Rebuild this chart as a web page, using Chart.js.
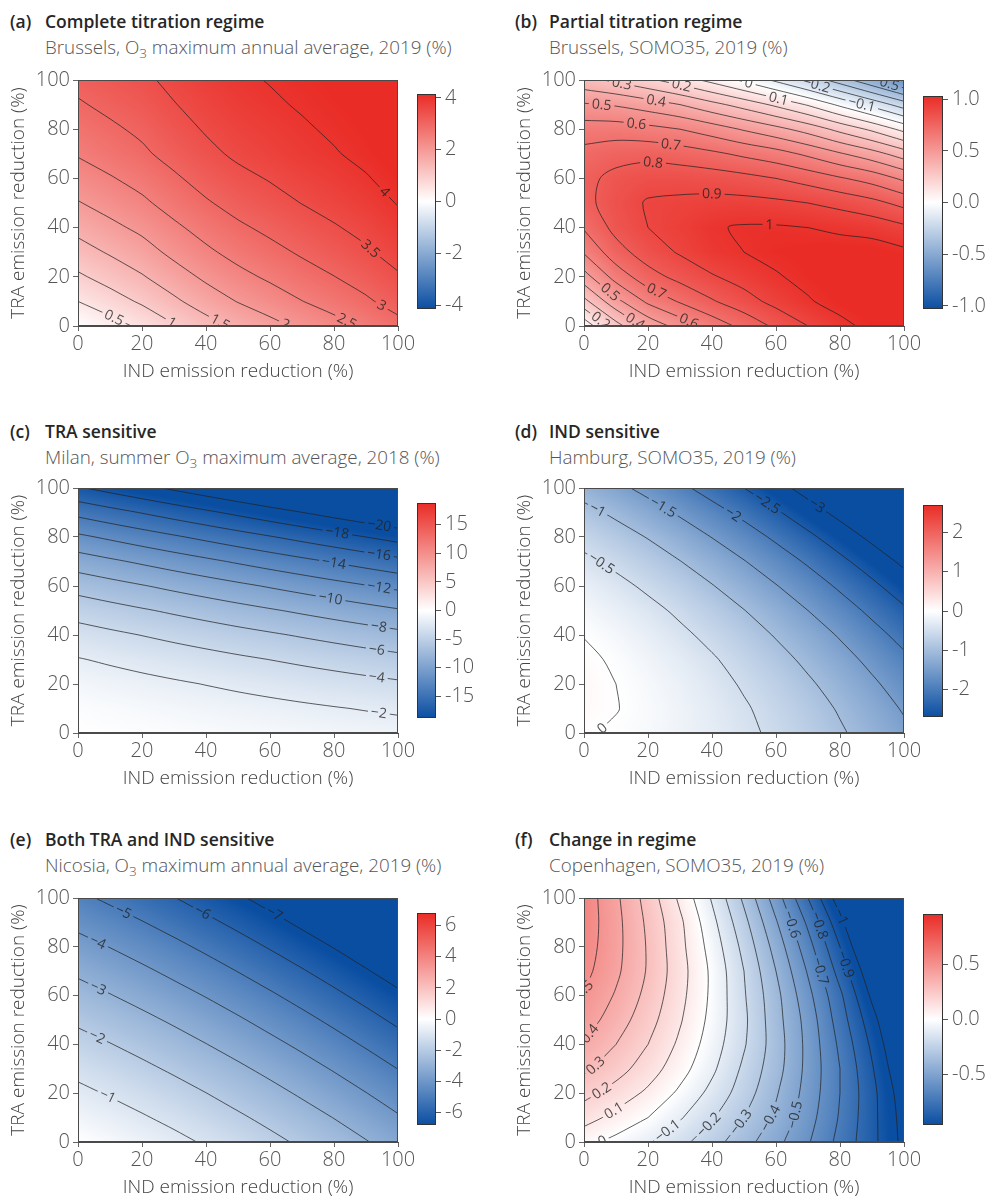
<!DOCTYPE html>
<html>
<head>
<meta charset="utf-8">
<script src="https://cdn.jsdelivr.net/npm/chart.js@4.4.1/dist/chart.umd.min.js"></script>
<style>
  body { margin: 0; background: #fff; width: 992px; height: 1198px; position: relative; overflow: hidden;
         font-family: 'Open Sans', 'DejaVu Sans', sans-serif; }
  canvas { position: absolute; }
  .lt { position: absolute; font-size: 17.5px; font-weight: 600; color: #262626; transform: translateY(-50%); white-space: nowrap; }
  .st { position: absolute; font-size: 18.8px; font-weight: 300; color: #555; transform: translateY(-50%); white-space: nowrap; }
  .sub3 { font-size: 0.72em; position: relative; top: 0.3em; }
</style>
</head>
<body>
<script>
// grid axes (emission reduction, %)
const xIND = [0, 10, 20, 30, 40, 50, 60, 70, 80, 90, 100];
const yTRA = [0, 10, 20, 30, 40, 50, 60, 70, 80, 90, 100];

// values, one row per TRA step (0 -> 100), columns IND 0 -> 100
const gridA = [
  [0.00, 0.30, 0.60, 0.96, 1.30, 1.60, 1.85, 2.10, 2.33, 2.57, 2.85],
  [0.50, 0.78, 1.07, 1.41, 1.74, 2.02, 2.25, 2.49, 2.70, 2.93, 3.19],
  [0.92, 1.19, 1.46, 1.78, 2.09, 2.36, 2.58, 2.80, 2.99, 3.20, 3.45],
  [1.30, 1.55, 1.80, 2.12, 2.41, 2.66, 2.86, 3.06, 3.25, 3.44, 3.67],
  [1.64, 1.88, 2.11, 2.41, 2.68, 2.92, 3.11, 3.29, 3.46, 3.63, 3.85],
  [1.97, 2.19, 2.41, 2.69, 2.95, 3.17, 3.34, 3.51, 3.66, 3.82, 4.02],
  [2.26, 2.46, 2.67, 2.93, 3.18, 3.38, 3.53, 3.69, 3.82, 3.97, 4.15],
  [2.54, 2.73, 2.92, 3.16, 3.39, 3.58, 3.72, 3.86, 3.97, 4.10, 4.27],
  [2.75, 2.92, 3.09, 3.33, 3.54, 3.71, 3.83, 3.95, 4.06, 4.17, 4.32],
  [2.95, 3.11, 3.26, 3.48, 3.67, 3.83, 3.94, 4.04, 4.13, 4.22, 4.36],
  [3.13, 3.27, 3.41, 3.61, 3.79, 3.93, 4.02, 4.11, 4.18, 4.26, 4.38]
];
const gridB = [
  [0.03, 0.26, 0.43, 0.54, 0.64, 0.73, 0.82, 0.90, 0.97, 1.03, 1.06],
  [0.27, 0.47, 0.62, 0.71, 0.79, 0.86, 0.93, 0.99, 1.04, 1.08, 1.09],
  [0.46, 0.64, 0.76, 0.83, 0.89, 0.94, 0.99, 1.03, 1.06, 1.08, 1.08],
  [0.61, 0.76, 0.85, 0.91, 0.97, 1.00, 1.03, 1.04, 1.05, 1.05, 1.02],
  [0.71, 0.83, 0.90, 0.94, 0.99, 1.01, 1.01, 1.00, 0.98, 0.96, 0.92],
  [0.77, 0.85, 0.91, 0.92, 0.93, 0.93, 0.92, 0.90, 0.87, 0.83, 0.77],
  [0.77, 0.83, 0.86, 0.86, 0.85, 0.83, 0.80, 0.76, 0.71, 0.66, 0.58],
  [0.73, 0.76, 0.77, 0.75, 0.72, 0.68, 0.64, 0.58, 0.51, 0.44, 0.35],
  [0.65, 0.65, 0.63, 0.60, 0.55, 0.49, 0.43, 0.36, 0.27, 0.18, 0.07],
  [0.51, 0.49, 0.45, 0.40, 0.33, 0.26, 0.18, 0.09, -0.02, -0.13, -0.25],
  [0.33, 0.28, 0.22, 0.15, 0.07, -0.02, -0.12, -0.23, -0.35, -0.48, -0.62]
];
const gridC = [
  [0.00, -0.12, -0.24, -0.36, -0.48, -0.61, -0.73, -0.85, -0.97, -1.09, -1.21],
  [-0.30, -0.50, -0.70, -0.90, -1.10, -1.30, -1.50, -1.70, -1.90, -2.10, -2.30],
  [-0.94, -1.22, -1.49, -1.77, -2.05, -2.33, -2.60, -2.88, -3.16, -3.43, -3.71],
  [-1.90, -2.25, -2.61, -2.96, -3.31, -3.67, -4.02, -4.37, -4.72, -5.08, -5.43],
  [-3.18, -3.61, -4.04, -4.47, -4.90, -5.33, -5.75, -6.18, -6.61, -7.04, -7.47],
  [-4.80, -5.30, -5.80, -6.30, -6.80, -7.31, -7.81, -8.31, -8.81, -9.31, -9.81],
  [-6.74, -7.31, -7.88, -8.46, -9.03, -9.60, -10.17, -10.74, -11.32, -11.89, -12.46],
  [-9.02, -9.66, -10.30, -10.94, -11.58, -12.23, -12.87, -13.51, -14.15, -14.79, -15.43],
  [-11.62, -12.33, -13.04, -13.75, -14.46, -15.17, -15.87, -16.58, -17.29, -18.00, -18.71],
  [-14.54, -15.32, -16.09, -16.87, -17.64, -18.42, -19.20, -19.97, -20.75, -21.52, -22.30],
  [-17.80, -18.64, -19.48, -20.32, -21.16, -22.00, -22.84, -23.68, -24.52, -25.36, -26.20]
];
const gridD = [
  [0.02, -0.03, -0.09, -0.18, -0.29, -0.42, -0.57, -0.75, -0.95, -1.17, -1.41],
  [0.07, 0.01, -0.08, -0.18, -0.31, -0.46, -0.63, -0.82, -1.04, -1.28, -1.54],
  [0.08, 0.00, -0.10, -0.22, -0.37, -0.54, -0.72, -0.94, -1.17, -1.43, -1.70],
  [0.06, -0.04, -0.16, -0.30, -0.46, -0.65, -0.86, -1.09, -1.34, -1.61, -1.91],
  [-0.01, -0.12, -0.26, -0.42, -0.60, -0.80, -1.03, -1.27, -1.54, -1.84, -2.15],
  [-0.11, -0.24, -0.39, -0.57, -0.77, -0.99, -1.23, -1.50, -1.79, -2.10, -2.43],
  [-0.24, -0.39, -0.57, -0.76, -0.98, -1.22, -1.48, -1.76, -2.07, -2.40, -2.75],
  [-0.42, -0.59, -0.78, -0.99, -1.22, -1.48, -1.76, -2.06, -2.39, -2.73, -3.10],
  [-0.63, -0.82, -1.02, -1.25, -1.51, -1.78, -2.08, -2.40, -2.74, -3.11, -3.49],
  [-0.88, -1.08, -1.31, -1.56, -1.83, -2.12, -2.44, -2.78, -3.14, -3.52, -3.92],
  [-1.17, -1.39, -1.63, -1.90, -2.19, -2.50, -2.83, -3.19, -3.57, -3.97, -4.39]
];
const gridE = [
  [0.00, -0.24, -0.50, -0.78, -1.09, -1.42, -1.77, -2.14, -2.53, -2.95, -3.39],
  [-0.39, -0.64, -0.92, -1.21, -1.53, -1.87, -2.23, -2.62, -3.02, -3.45, -3.91],
  [-0.80, -1.07, -1.35, -1.66, -1.99, -2.35, -2.72, -3.12, -3.54, -3.98, -4.45],
  [-1.23, -1.51, -1.81, -2.13, -2.47, -2.84, -3.23, -3.64, -4.07, -4.53, -5.01],
  [-1.68, -1.97, -2.28, -2.62, -2.98, -3.36, -3.76, -4.18, -4.63, -5.10, -5.59],
  [-2.15, -2.45, -2.78, -3.13, -3.50, -3.89, -4.31, -4.74, -5.20, -5.68, -6.19],
  [-2.64, -2.96, -3.30, -3.66, -4.04, -4.45, -4.87, -5.32, -5.79, -6.29, -6.81],
  [-3.15, -3.48, -3.83, -4.21, -4.60, -5.02, -5.46, -5.92, -6.41, -6.92, -7.45],
  [-3.68, -4.02, -4.39, -4.77, -5.18, -5.62, -6.07, -6.55, -7.04, -7.56, -8.11],
  [-4.23, -4.59, -4.96, -5.36, -5.79, -6.23, -6.70, -7.19, -7.70, -8.23, -8.79],
  [-4.80, -5.17, -5.56, -5.97, -6.41, -6.87, -7.35, -7.85, -8.37, -8.92, -9.49]
];
const gridF = [
  [0.03, -0.03, -0.09, -0.17, -0.26, -0.36, -0.47, -0.59, -0.73, -0.87, -1.03],
  [0.14, 0.07, 0.00, -0.09, -0.19, -0.30, -0.42, -0.56, -0.71, -0.87, -1.04],
  [0.23, 0.16, 0.08, -0.02, -0.13, -0.25, -0.39, -0.54, -0.70, -0.87, -1.06],
  [0.32, 0.24, 0.15, 0.04, -0.08, -0.22, -0.36, -0.53, -0.70, -0.89, -1.10],
  [0.39, 0.30, 0.20, 0.08, -0.05, -0.19, -0.35, -0.53, -0.72, -0.92, -1.14],
  [0.45, 0.35, 0.24, 0.11, -0.03, -0.18, -0.36, -0.54, -0.75, -0.96, -1.19],
  [0.49, 0.39, 0.27, 0.13, -0.02, -0.19, -0.37, -0.57, -0.78, -1.02, -1.26],
  [0.53, 0.42, 0.29, 0.14, -0.02, -0.20, -0.40, -0.61, -0.84, -1.08, -1.34],
  [0.55, 0.43, 0.29, 0.13, -0.04, -0.23, -0.44, -0.66, -0.90, -1.16, -1.43],
  [0.56, 0.43, 0.28, 0.12, -0.07, -0.27, -0.49, -0.72, -0.97, -1.24, -1.53],
  [0.56, 0.42, 0.26, 0.08, -0.11, -0.32, -0.55, -0.80, -1.06, -1.34, -1.65]
];

// contour levels
const levelsA = [0.5, 1, 1.5, 2, 2.5, 3, 3.5, 4];
const levelsB = [-0.5, -0.4, -0.3, -0.2, -0.1, 0, 0.1, 0.2, 0.3, 0.4, 0.5, 0.6, 0.7, 0.8, 0.9, 1];
const levelsC = [-20, -18, -16, -14, -12, -10, -8, -6, -4, -2];
const levelsD = [-3, -2.5, -2, -1.5, -1, -0.5, 0];
const levelsE = [-7, -6, -5, -4, -3, -2, -1];
const levelsF = [-1, -0.9, -0.8, -0.7, -0.6, -0.5, -0.4, -0.3, -0.2, -0.1, 0, 0.1, 0.2, 0.3, 0.4, 0.5];

// inline contour labels: [level, IND, TRA] (approximate spot, snapped onto the line)
const labelsA = [[0.5, 10.6, 2.3], [1, 29.4, 1.6], [1.5, 45, 2.3], [2, 65.3, 1.6], [2.5, 84, 2],
                 [3, 96, 9.7], [3.5, 91.4, 31.4], [4, 94.5, 53.6]];
const labelsB = [[0.3, 11.7, 98.2], [0.2, 30.4, 97.6], [0, 51.3, 98.2], [-0.2, 72, 96.2], [-0.5, 93, 95.5],
                 [0.4, 22.6, 91.8], [0.1, 60.6, 91.8], [-0.1, 86.1, 88.1], [0.5, 5.4, 89], [0.6, 16.4, 82.3],
                 [0.7, 27.3, 74.6], [0.8, 21.6, 66.5], [0.9, 40.3, 56.4], [1, 58, 42.8],
                 [0.5, 9, 14.5], [0.7, 23.6, 15.8], [0.2, 6, 3], [0.4, 17.4, 3.6], [0.6, 33, 2.3]];
const labelsC = [[-2, 94, 8.1], [-4, 93.4, 23], [-6, 93.4, 34.1], [-8, 94, 43.4], [-10, 78.9, 54.9],
                 [-12, 94, 58.9], [-14, 79.9, 69.1], [-16, 94, 72.5], [-18, 80.9, 81.3], [-20, 94, 84]];
const labelsD = [[0, 4, 3.4], [-0.5, 5.9, 69.8], [-1, 4.9, 92.1], [-1.5, 24.7, 92.1], [-2, 45.5, 88],
                 [-2.5, 55.9, 92.1], [-3, 71.6, 91.4]];
const labelsE = [[-1, 9.1, 18.6], [-2, 5.9, 43], [-3, 6.5, 63.4], [-4, 6.5, 82.4], [-5, 14.8, 95.3],
                 [-6, 39.8, 95.3], [-7, 62.2, 94.6]];
const labelsF = [[0.5, 2.5, 61], [0.4, 4, 43], [0.3, 5, 30], [0.2, 5.5, 21], [0.1, 10, 12], [0, 5, 1.6],
                 [-0.1, 25.7, 5], [-0.2, 38.2, 7.7], [-0.3, 48.6, 8.4], [-0.4, 58, 9.8], [-0.5, 66.4, 11.1],
                 [-0.6, 64.5, 89], [-0.7, 75.9, 70.5], [-0.8, 72.7, 88.5], [-0.9, 83.6, 73.3], [-1, 81, 92.5]];

// colour bar limits and ticks
const cbRange = [4.15, 1.03, 18.8, 2.7, 6.8, 0.96];
const cbTicksA = [-4, -2, 0, 2, 4];
const cbTicksB = [-1, -0.5, 0, 0.5, 1];
const cbTicksC = [-15, -10, -5, 0, 5, 10, 15];
const cbTicksD = [-2, -1, 0, 1, 2];
const cbTicksE = [-6, -4, -2, 0, 2, 4, 6];
const cbTicksF = [-0.5, 0, 0.5];

const letters = ['(a)', '(b)', '(c)', '(d)', '(e)', '(f)'];
const titles = ['Complete titration regime', 'Partial titration regime', 'TRA sensitive', 'IND sensitive',
                'Both TRA and IND sensitive', 'Change in regime'];
const subtitles = ['Brussels, O<span class="sub3">3</span> maximum annual average, 2019 (%)',
                   'Brussels, SOMO35, 2019 (%)',
                   'Milan, summer O<span class="sub3">3</span> maximum average, 2018 (%)',
                   'Hamburg, SOMO35, 2019 (%)',
                   'Nicosia, O<span class="sub3">3</span> maximum annual average, 2019 (%)',
                   'Copenhagen, SOMO35, 2019 (%)'];

const panels = [
  { grid: gridA, levels: levelsA, labels: labelsA, ticks: cbTicksA, dec: 0 },
  { grid: gridB, levels: levelsB, labels: labelsB, ticks: cbTicksB, dec: 1 },
  { grid: gridC, levels: levelsC, labels: labelsC, ticks: cbTicksC, dec: 0 },
  { grid: gridD, levels: levelsD, labels: labelsD, ticks: cbTicksD, dec: 0 },
  { grid: gridE, levels: levelsE, labels: labelsE, ticks: cbTicksE, dec: 0 },
  { grid: gridF, levels: levelsF, labels: labelsF, ticks: cbTicksF, dec: 1 }
];

// layout (pixels)
const PLOT_LEFT = [78, 584];
const ROW_TOP = [79, 487, 897];
const ROW_BOTTOM = [326, 733, 1142];
const CB_LEFT = [417, 923];
const CB_W = [19, 20];
const CB_Y = [[90, 313], [92, 313], [499, 722], [501, 721], [909, 1129], [910, 1129]];
const TITLE_Y = [21, 431, 839];
const SUB_Y = [47, 457, 865];
const LETTER_X = [10, 515];
const TEXT_X = [45, 549];

const BLUE = [10, 78, 162], WHITE = [255, 255, 255], RED = [234, 44, 38];
const LINE = 'rgba(35,35,35,0.72)';
const LABEL = 'rgba(35,35,35,0.8)';
const FONT = "'Open Sans', 'DejaVu Sans', sans-serif";
const TICK_FONT = { size: 20, weight: '300' };
const TITLE_FONT = { size: 19, weight: '300' };

Chart.defaults.font.family = FONT;
Chart.defaults.color = '#555';

function cmap(v, R) {
  let t = (v + R) / (2 * R);
  t = Math.max(0, Math.min(1, t));
  let a, b, s;
  if (t < 0.5) { a = BLUE; b = WHITE; s = t / 0.5; } else { a = WHITE; b = RED; s = (t - 0.5) / 0.5; }
  return [a[0] + (b[0] - a[0]) * s, a[1] + (b[1] - a[1]) * s, a[2] + (b[2] - a[2]) * s];
}
const rgb = c => 'rgb(' + c.join(',') + ')';

function sample(grid, x, y) {
  const n = xIND.length - 1, m = yTRA.length - 1;
  let fx = (x - xIND[0]) / (xIND[n] - xIND[0]) * n;
  let fy = (y - yTRA[0]) / (yTRA[m] - yTRA[0]) * m;
  fx = Math.max(0, Math.min(n, fx)); fy = Math.max(0, Math.min(m, fy));
  const i = Math.min(n - 1, Math.floor(fx)), j = Math.min(m - 1, Math.floor(fy));
  const tx = fx - i, ty = fy - j;
  return grid[j][i] * (1 - tx) * (1 - ty) + grid[j][i + 1] * tx * (1 - ty)
       + grid[j + 1][i] * (1 - tx) * ty + grid[j + 1][i + 1] * tx * ty;
}

// marching squares, chained into polylines
function contourLines(grid, level) {
  const nodes = new Map();
  const link = (a, b) => { nodes.get(a).links.push(b); nodes.get(b).links.push(a); };
  function hEdge(i, j) {
    const key = 'h' + i + '_' + j;
    if (!nodes.has(key)) {
      const a = grid[j][i], b = grid[j][i + 1], t = (level - a) / (b - a);
      nodes.set(key, { x: xIND[i] + (xIND[i + 1] - xIND[i]) * t, y: yTRA[j], links: [] });
    }
    return key;
  }
  function vEdge(i, j) {
    const key = 'v' + i + '_' + j;
    if (!nodes.has(key)) {
      const a = grid[j][i], b = grid[j + 1][i], t = (level - a) / (b - a);
      nodes.set(key, { x: xIND[i], y: yTRA[j] + (yTRA[j + 1] - yTRA[j]) * t, links: [] });
    }
    return key;
  }
  for (let j = 0; j < yTRA.length - 1; j++) {
    for (let i = 0; i < xIND.length - 1; i++) {
      const v00 = grid[j][i], v10 = grid[j][i + 1], v01 = grid[j + 1][i], v11 = grid[j + 1][i + 1];
      const c = (v00 >= level ? 1 : 0) | (v10 >= level ? 2 : 0) | (v11 >= level ? 4 : 0) | (v01 >= level ? 8 : 0);
      if (c === 0 || c === 15) continue;
      const B = () => hEdge(i, j), T = () => hEdge(i, j + 1), L = () => vEdge(i, j), R = () => vEdge(i + 1, j);
      let segs;
      switch (c) {
        case 1: case 14: segs = [[L(), B()]]; break;
        case 2: case 13: segs = [[B(), R()]]; break;
        case 4: case 11: segs = [[R(), T()]]; break;
        case 8: case 7: segs = [[T(), L()]]; break;
        case 3: case 12: segs = [[L(), R()]]; break;
        case 6: case 9: segs = [[B(), T()]]; break;
        default: {
          const ctr = (v00 + v10 + v01 + v11) / 4;
          if ((c === 5) === (ctr >= level)) segs = [[L(), T()], [B(), R()]];
          else segs = [[L(), B()], [R(), T()]];
        }
      }
      segs.forEach(s => link(s[0], s[1]));
    }
  }
  const used = new Set(), chains = [];
  function walk(start) {
    const pts = [start]; used.add(start);
    let cur = start;
    while (true) {
      const nb = nodes.get(cur).links.find(k => !used.has(k));
      if (!nb) break;
      pts.push(nb); used.add(nb); cur = nb;
    }
    return pts;
  }
  for (const [k, nd] of nodes) if (nd.links.length === 1 && !used.has(k)) chains.push(walk(k));
  for (const [k] of nodes) if (!used.has(k)) { const ch = walk(k); ch.push(ch[0]); chains.push(ch); }
  return chains.map(ch => ch.map(k => ({ x: nodes.get(k).x, y: nodes.get(k).y })));
}

function contourDatasets(p) {
  const out = [];
  p.levels.forEach(lv => {
    contourLines(p.grid, lv).forEach(pts => {
      out.push({ data: pts, showLine: true, borderColor: LINE, borderWidth: 1, pointRadius: 0,
                 tension: 0.3, fill: false });
    });
  });
  return out;
}

function placeLabels(chart, p) {
  const { ctx, scales: { x, y } } = chart;
  ctx.save();
  ctx.font = '14px ' + FONT;
  const out = p.labels.map(([lv, lx, ly]) => {
    let vx = lx, vy = ly;
    for (let it = 0; it < 10; it++) {
      const f = sample(p.grid, vx, vy) - lv;
      const gx = sample(p.grid, vx + 0.5, vy) - sample(p.grid, vx - 0.5, vy);
      const gy = sample(p.grid, vx, vy + 0.5) - sample(p.grid, vx, vy - 0.5);
      const g2 = gx * gx + gy * gy;
      if (g2 < 1e-12) break;
      vx = Math.max(0, Math.min(100, vx - f * gx / g2));
      vy = Math.max(0, Math.min(100, vy - f * gy / g2));
    }
    const px = x.getPixelForValue(vx), py = y.getPixelForValue(vy);
    const gpx = sample(p.grid, x.getValueForPixel(px + 1), vy) - sample(p.grid, x.getValueForPixel(px - 1), vy);
    const gpy = sample(p.grid, vx, y.getValueForPixel(py + 1)) - sample(p.grid, vx, y.getValueForPixel(py - 1));
    let ang = Math.atan2(gpx, -gpy);
    if (ang > Math.PI / 2) ang -= Math.PI;
    if (ang < -Math.PI / 2) ang += Math.PI;
    const text = String(lv).replace('-', '\u2212');
    return { px, py, ang, text, w: ctx.measureText(text).width + 6 };
  });
  ctx.restore();
  return out;
}

function heatPlugin(p, R) {
  return {
    id: 'heat',
    beforeDatasetsDraw(chart) {
      const { ctx, chartArea: a, scales: { x, y } } = chart;
      const w = Math.round(a.right - a.left), h = Math.round(a.bottom - a.top);
      const off = document.createElement('canvas');
      off.width = w; off.height = h;
      const octx = off.getContext('2d');
      const img = octx.createImageData(w, h);
      for (let py = 0; py < h; py++) {
        const vy = y.getValueForPixel(a.top + py + 0.5);
        for (let px = 0; px < w; px++) {
          const vx = x.getValueForPixel(a.left + px + 0.5);
          const c = cmap(sample(p.grid, vx, vy), R);
          const o = (py * w + px) * 4;
          img.data[o] = c[0]; img.data[o + 1] = c[1]; img.data[o + 2] = c[2]; img.data[o + 3] = 255;
        }
      }
      octx.putImageData(img, 0, 0);
      ctx.drawImage(off, a.left, a.top);

      // cut gaps in the contour lines where the labels go
      chart.$labels = placeLabels(chart, p);
      ctx.save();
      ctx.beginPath();
      ctx.rect(0, 0, chart.width, chart.height);
      chart.$labels.forEach(l => {
        const c = Math.cos(l.ang), s = Math.sin(l.ang), hw = l.w / 2, hh = 5;
        const pts = [[-hw, -hh], [hw, -hh], [hw, hh], [-hw, hh]].map(([u, v]) => [l.px + u * c - v * s, l.py + u * s + v * c]);
        ctx.moveTo(pts[0][0], pts[0][1]);
        for (let k = 1; k < 4; k++) ctx.lineTo(pts[k][0], pts[k][1]);
        ctx.closePath();
      });
      ctx.clip('evenodd');
    },
    afterDatasetsDraw(chart) {
      const { ctx, chartArea: a } = chart;
      ctx.restore();
      ctx.save();
      ctx.beginPath();
      ctx.rect(a.left, a.top, a.right - a.left, a.bottom - a.top);
      ctx.clip();
      ctx.font = '14px ' + FONT;
      ctx.fillStyle = LABEL;
      ctx.textAlign = 'center';
      ctx.textBaseline = 'middle';
      chart.$labels.forEach(l => {
        ctx.save();
        ctx.translate(l.px, l.py);
        ctx.rotate(l.ang);
        ctx.fillText(l.text, 0, 0.5);
        ctx.restore();
      });
      ctx.restore();
      ctx.strokeStyle = '#4a4a4a';
      ctx.lineWidth = 1;
      ctx.strokeRect(a.left + 0.5, a.top + 0.5, a.right - a.left - 1, a.bottom - a.top - 1);
    }
  };
}

const cbPlugin = {
  id: 'cbar',
  beforeDatasetsDraw(chart) {
    const { ctx, chartArea: a } = chart;
    const g = ctx.createLinearGradient(0, a.bottom, 0, a.top);
    g.addColorStop(0, rgb(BLUE));
    g.addColorStop(0.5, rgb(WHITE));
    g.addColorStop(1, rgb(RED));
    ctx.fillStyle = g;
    ctx.fillRect(a.left, a.top, a.right - a.left, a.bottom - a.top);
    ctx.strokeStyle = '#333';
    ctx.lineWidth = 1;
    ctx.strokeRect(a.left + 0.5, a.top + 0.5, a.right - a.left - 1, a.bottom - a.top - 1);
  }
};

function addCanvas(left, top, w, h) {
  const cv = document.createElement('canvas');
  cv.width = w; cv.height = h;
  cv.style.left = left + 'px'; cv.style.top = top + 'px';
  cv.style.width = w + 'px'; cv.style.height = h + 'px';
  document.body.appendChild(cv);
  return cv;
}

function addText(cls, x, y, html) {
  const d = document.createElement('div');
  d.className = cls;
  d.style.left = x + 'px'; d.style.top = y + 'px';
  d.innerHTML = html;
  document.body.appendChild(d);
}

panels.forEach((p, k) => {
  const col = k % 2, row = Math.floor(k / 2);
  const R = cbRange[k];

  addText('lt', LETTER_X[col], TITLE_Y[row], letters[k]);
  addText('lt', TEXT_X[col], TITLE_Y[row], titles[k]);
  addText('st', TEXT_X[col], SUB_Y[row], subtitles[k]);

  // main contour plot
  const plotH = ROW_BOTTOM[row] - ROW_TOP[row];
  const cv = addCanvas(PLOT_LEFT[col] - 78, ROW_TOP[row] - 14, 422, 14 + plotH + 64);
  new Chart(cv, {
    type: 'scatter',
    data: { datasets: contourDatasets(p) },
    options: {
      responsive: false, animation: false, events: [],
      layout: { padding: { top: 14, right: 24, bottom: 0, left: 0 } },
      plugins: { legend: { display: false }, tooltip: { enabled: false } },
      scales: {
        x: {
          type: 'linear', min: 0, max: 100,
          ticks: { stepSize: 20, font: TICK_FONT, color: '#555', padding: 1, maxRotation: 0 },
          grid: { drawOnChartArea: false, tickLength: 5, color: '#666' },
          border: { color: '#4a4a4a' },
          title: { display: true, text: 'IND emission reduction (%)', font: TITLE_FONT, color: '#444',
                   padding: { top: 0, bottom: 7 } },
          afterFit(s) { s.height = 64; }
        },
        y: {
          type: 'linear', min: 0, max: 100,
          ticks: { stepSize: 20, font: TICK_FONT, color: '#555', padding: 3 },
          grid: { drawOnChartArea: false, tickLength: 5, color: '#666' },
          border: { color: '#4a4a4a' },
          title: { display: true, text: 'TRA emission reduction (%)', font: TITLE_FONT, color: '#444',
                   padding: { top: 7, bottom: 0 } },
          afterFit(s) { s.width = 78; }
        }
      }
    },
    plugins: [heatPlugin(p, R)]
  });

  // colour bar
  const [cbTop, cbBottom] = CB_Y[k];
  const cb = addCanvas(CB_LEFT[col], cbTop - 12, CB_W[col] + 60, cbBottom - cbTop + 24);
  new Chart(cb, {
    type: 'scatter',
    data: { datasets: [] },
    options: {
      responsive: false, animation: false, events: [],
      layout: { padding: { top: 12, bottom: 12, left: 0, right: 0 } },
      plugins: { legend: { display: false }, tooltip: { enabled: false } },
      scales: {
        x: { display: false },
        y: {
          position: 'right', min: -R, max: R,
          afterBuildTicks(s) { s.ticks = p.ticks.map(v => ({ value: v })); },
          ticks: { font: TICK_FONT, color: '#555', padding: 4, callback: v => Number(v).toFixed(p.dec) },
          grid: { drawOnChartArea: false, tickLength: 5, color: '#555' },
          border: { display: false },
          afterFit(s) { s.width = 60; }
        }
      }
    },
    plugins: [cbPlugin]
  });
});
</script>
</body>
</html>
